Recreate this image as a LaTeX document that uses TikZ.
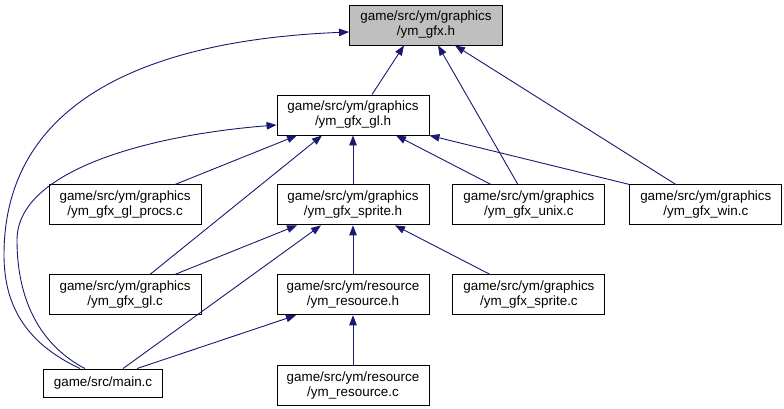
\documentclass[tikz,border=0pt]{standalone}
\usepackage{fontspec}
\setmainfont{Liberation Sans}
\usepackage{xcolor}
\usepackage{tikz}
\usetikzlibrary{arrows.meta,positioning}
\definecolor{edgeblue} {RGB}{25,25,112}
\definecolor{rootgray} {RGB}{191,191,191}
\tikzset{
  filebox/.style ={draw=black, line width=0.9pt, fill=white, align=center,
                   minimum width=#1, minimum height=40pt, inner sep=0pt,
                   font=\fontsize{13.4}{15}\selectfont},
  filebox/.default=152pt,
  rootbox/.style ={filebox, fill=rootgray},
  mainbox/.style ={filebox=119pt, minimum height=28pt},
  incl/.style    ={-{Triangle[length=10pt,width=7.5pt]}, draw=edgeblue,
                   line width=0.9pt},
}
\begin{document}
\begin{tikzpicture}[x=1pt,y=-1pt]
  \useasboundingbox (0,0) rectangle (784,409);
  %% headers
  \node[rootbox, minimum width=153pt] (gfx) at (426,25) {game/src/ym/graphics\\/ym\_gfx.h};
  \node[filebox] (gfxgl) at (353,115) {game/src/ym/graphics\\/ym\_gfx\_gl.h};
  \node[filebox, below=49pt of gfxgl] (sprite) {game/src/ym/graphics\\/ym\_gfx\_sprite.h};
  \node[filebox, left=75pt of sprite]  (procs)  {game/src/ym/graphics\\/ym\_gfx\_gl\_procs.c};
  \node[filebox, right=23pt of sprite] (unix)   {game/src/ym/graphics\\/ym\_gfx\_unix.c};
  \node[filebox, right=24pt of unix]   (win)    {game/src/ym/graphics\\/ym\_gfx\_win.c};
  \node[filebox, below=49pt of procs]  (glc)    {game/src/ym/graphics\\/ym\_gfx\_gl.c};
  \node[filebox, below=49pt of sprite] (resh)   {game/src/ym/resource\\/ym\_resource.h};
  \node[filebox, below=49pt of unix]   (spritec){game/src/ym/graphics\\/ym\_gfx\_sprite.c};
  \node[filebox, below=50pt of resh]   (resc)   {game/src/ym/resource\\/ym\_resource.c};
  \node[mainbox] (mainc) at (103,383) {game/src/main.c};
  %% includes of ym_gfx.h
  \draw[incl]([xshift=19pt]gfxgl.north)--([xshift=-22pt]gfx.south);
  \draw[incl]([xshift=-11pt]unix.north)--([xshift=12pt]gfx.south);
  \draw[incl]([xshift=-30pt]win.north)--([xshift=29pt]gfx.south);
  \draw[incl]([xshift=-23pt]mainc.north) .. controls (30,345) and (4,310) .. (4,255)
             .. controls (4,100) and (150,40) .. ([yshift=-7pt]gfx.west);
  %% includes of ym_gfx_gl.h
  \draw[incl]([xshift=50pt]procs.north)--([xshift=-56pt]gfxgl.south);
  \draw[incl]([xshift=25pt]glc.north)--([xshift=-31pt]gfxgl.south);
  \draw[incl](sprite)--(gfxgl);
  \draw[incl]([xshift=-38pt]unix.north)--([xshift=43pt]gfxgl.south);
  \draw[incl](win.north west)--(gfxgl.south east);
  \draw[incl]([xshift=-18pt]mainc.north) .. controls (40,345) and (17,300) .. (17,240)
             .. controls (17,170) and (150,135) .. ([yshift=-10pt]gfxgl.west);
  %% includes of ym_gfx_sprite.h
  \draw[incl]([xshift=50pt]glc.north)--([xshift=-56pt]sprite.south);
  \draw[incl]([xshift=20pt]mainc.north)--([xshift=-32pt]sprite.south);
  \draw[incl](resh)--(sprite);
  \draw[incl]([xshift=-39pt]spritec.north)--([xshift=42pt]sprite.south);
  %% includes of ym_resource.h
  \draw[incl]([xshift=34pt]mainc.north)--([xshift=-57pt]resh.south);
  \draw[incl](resc)--(resh);
\end{tikzpicture}
\end{document}
